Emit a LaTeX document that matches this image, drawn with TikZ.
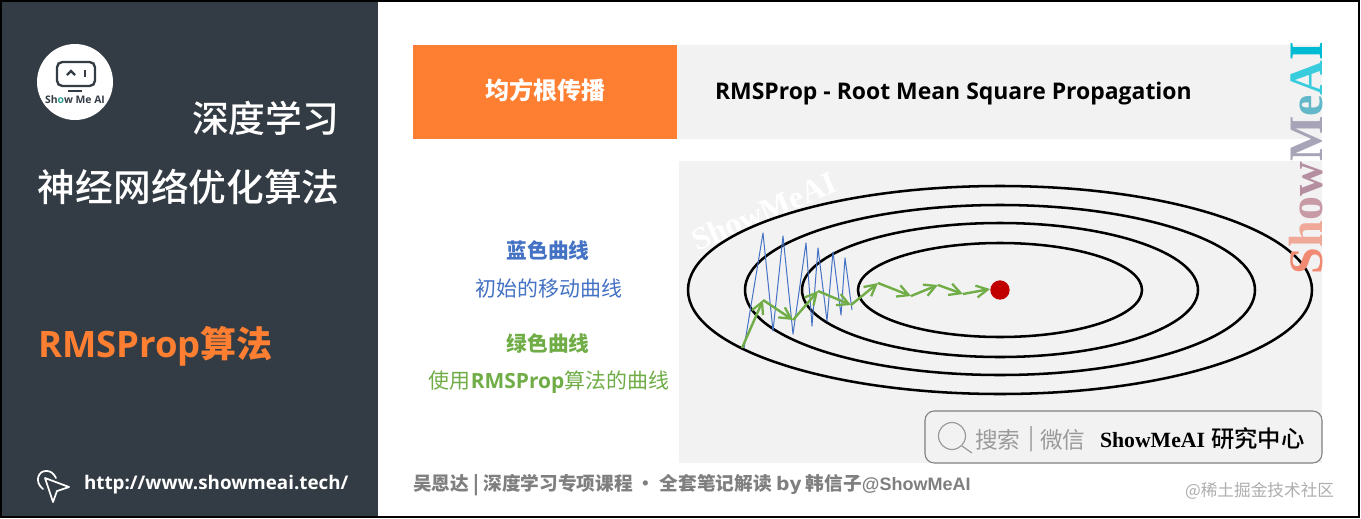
\documentclass[tikz,border=0pt]{standalone}
\usepackage{fontspec}
\setmainfont{Noto Sans CJK SC}
\newfontfamily\cjk{Noto Sans CJK SC}
\newfontfamily\cjkm{Noto Sans CJK SC Medium}
\newfontfamily\latw{DejaVu Sans}
\newfontfamily\latb{Open Sans}
\newfontfamily\serifb{Liberation Serif}[BoldFont={Liberation Serif Bold}]
\newfontfamily\sans{Liberation Sans}
\usetikzlibrary{arrows.meta}
\definecolor{panel}{HTML}{333C44}
\definecolor{orangeA}{HTML}{FF7F32}
\definecolor{grayA}{HTML}{F2F2F2}
\definecolor{blueA}{HTML}{4472C4}
\definecolor{greenA}{HTML}{70AD47}
\definecolor{redA}{HTML}{C00000}
\definecolor{footA}{HTML}{7F7F7F}
\definecolor{searchA}{HTML}{9A9A9A}
\definecolor{tealA}{HTML}{2A9D8F}
\definecolor{vS}{HTML}{F08A72}
\definecolor{vh}{HTML}{F0A898}
\definecolor{vo}{HTML}{C89AA5}
\definecolor{vw}{HTML}{B58FA0}
\definecolor{vM}{HTML}{A8A4B8}
\definecolor{ve}{HTML}{62B8C8}
\definecolor{vA}{HTML}{38CCDD}
\definecolor{vI}{HTML}{00BBD4}
\tikzset{
 x=0.75pt,y=-0.75pt,
 txt/.style={inner sep=0pt,outer sep=0pt,anchor=west},
 ctr/.style={inner sep=0pt,outer sep=0pt,anchor=center},
 contour/.style={draw=black,line width=1.9pt},
 bluez/.style={draw=blueA,line width=0.75pt,line join=round},
 greena/.style={draw=greenA,line width=1.8pt,-{Straight Barb[length=8.5pt,width=9pt,line width=1.7pt]}},
}
\begin{document}
\begin{tikzpicture}
\useasboundingbox (0,0) rectangle (1361,518);
\fill[white] (0,0) rectangle (1361,518);
% panels
\fill[panel] (0,0) rectangle (378,518);
\fill[orangeA] (413,45) rectangle (677,139);
\fill[grayA] (677,45) rectangle (1322,139);
\fill[grayA] (679,161) rectangle (1322,463);
% header
\node[ctr,text=white,font=\cjk\bfseries\fontsize{18}{18}\selectfont] (hd) at (545,90) {均方根传播};
\node[txt,text=black,font=\latb\bfseries\fontsize{17.2}{18}\selectfont] (ttl) at (715,94) {RMSProp - Root Mean Square Propagation};
% watermark
\node[ctr,rotate=23,text=white,font=\serifb\bfseries\fontsize{24}{24}\selectfont] (wm) at (764,211) {ShowMeAI};
% contours
\draw[contour] (1000,290) ellipse [x radius=312,y radius=104];
\draw[contour] (1000,290) ellipse [x radius=255,y radius=85];
\draw[contour] (1000,290) ellipse [x radius=198,y radius=67];
\draw[contour] (1000,290) ellipse [x radius=142,y radius=47];
% blue zigzag
\draw[bluez] (744,348) -- (763,233) -- (773,331) -- (783,236) -- (793,334) -- (806,243) -- (812,326) -- (818,248) -- (827,321) -- (833,252) -- (841,315) -- (845,258) -- (852,310);
% green path
\coordinate (g0) at (742,348);
\coordinate (g1) at (763,300);
\coordinate (g2) at (793,320);
\coordinate (g3) at (818,291);
\coordinate (g4) at (851,305);
\coordinate (g5) at (878,283);
\coordinate (g6) at (911,296);
\coordinate (g7) at (938,285);
\coordinate (g8) at (963,294);
\coordinate (g9) at (990,289);
\foreach \a/\b in {g0/g1,g1/g2,g2/g3,g3/g4,g4/g5,g5/g6,g6/g7,g7/g8,g8/g9}
  \draw[greena] (\a) -- (\b);
\node[circle,fill=redA,minimum size=14.5pt,inner sep=0pt] (goal) at (1000,290) {};
% vertical brand
\node[ctr,rotate=90,font=\serifb\bfseries\fontsize{36}{36}\selectfont] (brand) at (1306,158)
 {\textcolor{vS}{S}\textcolor{vh}{h}\textcolor{vo}{o}\textcolor{vw}{w}\textcolor{vM}{M}\textcolor{ve}{e}\textcolor{vA}{A}\textcolor{vI}{I}};
% legend
\node[ctr,text=blueA,font=\cjk\bfseries\fontsize{15.5}{16}\selectfont] (l1) at (548,251) {蓝色曲线};
\node[ctr,text=blueA,font=\cjk\fontsize{15.7}{16}\selectfont] (l2) at (549,289) {初始的移动曲线};
\node[ctr,text=greenA,font=\cjk\bfseries\fontsize{15.5}{16}\selectfont] (l3) at (548,344) {绿色曲线};
\node[ctr,text=greenA,font=\cjk\fontsize{15.7}{16}\selectfont] (l4) at (549,382) {使用{\latb\bfseries RMSProp}算法的曲线};
% search box
\draw[draw=footA,fill=grayA,line width=0.8pt,rounded corners=7pt] (925,411) rectangle (1322,463);
\draw[searchA,line width=0.9pt] (952,436) circle [x radius=13.5,y radius=13.5];
\draw[searchA,line width=0.9pt] (962,446) -- (972,453);
\node[txt,text=searchA,font=\cjk\fontsize{17}{18}\selectfont] (s1) at (975,440) {搜索};
\node[txt,text=searchA,font=\cjk\fontsize{17}{18}\selectfont] (s1b) at (1028,439) {|};
\node[txt,text=searchA,font=\cjk\fontsize{17}{18}\selectfont] (s1c) at (1040,440) {微信};
\node[txt,text=black,font=\serifb\bfseries\fontsize{16.3}{18}\selectfont] (s2) at (1100,440) {ShowMeAI};
\node[txt,text=black,font=\cjkm\fontsize{17.5}{18}\selectfont] (s3) at (1211,439) {研究中心};
% footer
\node[txt,text=footA,font=\cjk\bfseries\fontsize{14}{16}\selectfont] (f1) at (413,485) {吴恩达 | 深度学习专项课程 · 全套笔记解读 {\latw by} 韩信子{\sans\fontsize{13.5}{16}\selectfont @ShowMeAI}};
\node[txt,text=searchA!80,font=\cjk\fontsize{12.5}{14}\selectfont] (f2) at (1185,491) {@稀土掘金技术社区};
% left panel
\node[circle,fill=white,minimum size=57pt,inner sep=0pt] (logo) at (75,82) {};
\draw[panel,line width=1.8pt,rounded corners=4pt] (57,62) rectangle (95,86);
\draw[panel,line width=1.8pt] (68,91) -- (82,91);
\draw[panel,line width=1.6pt] (67,75) -- (71,71) -- (75,75);
\draw[panel,line width=1.8pt] (85,70) -- (85,77);
\node[ctr,text=panel,font=\latb\bfseries\fontsize{7.8}{8}\selectfont] (lg) at (75,100) {Sh\textcolor{tealA}{o}w Me AI};
\node[anchor=east,inner sep=0pt,text=white,font=\cjkm\fontsize{27.6}{28}\selectfont] (t1) at (339.5,118) {深度学习};
\node[anchor=east,inner sep=0pt,text=white,font=\cjkm\fontsize{28.3}{30}\selectfont] (t2) at (340,187) {神经网络优化算法};
\node[txt,text=orangeA,font=\cjk\bfseries\fontsize{27}{28}\selectfont] (t3) at (38,346) {{\latb\bfseries\fontsize{27.3}{28}\selectfont RMSProp}算法};
\node[txt,text=white,font=\latb\bfseries\fontsize{14.1}{16}\selectfont] (url) at (84,485) {http://www.showmeai.tech/};
\draw[white,line width=1.3pt,line join=round] (45,478) -- (69,487) -- (57,491) -- (53,502) -- cycle;
\draw[white,line width=1.3pt,line cap=round] (43,489) .. controls (34,482) and (38,470) .. (47,471) .. controls (51,471) and (54,474) .. (56,478);
% frame
\draw[black,line width=1.5pt] (0.5,0.7) -- (1359,0.7) -- (1359,516.5) -- (0.5,516.5) -- cycle;
\end{tikzpicture}
\end{document}
